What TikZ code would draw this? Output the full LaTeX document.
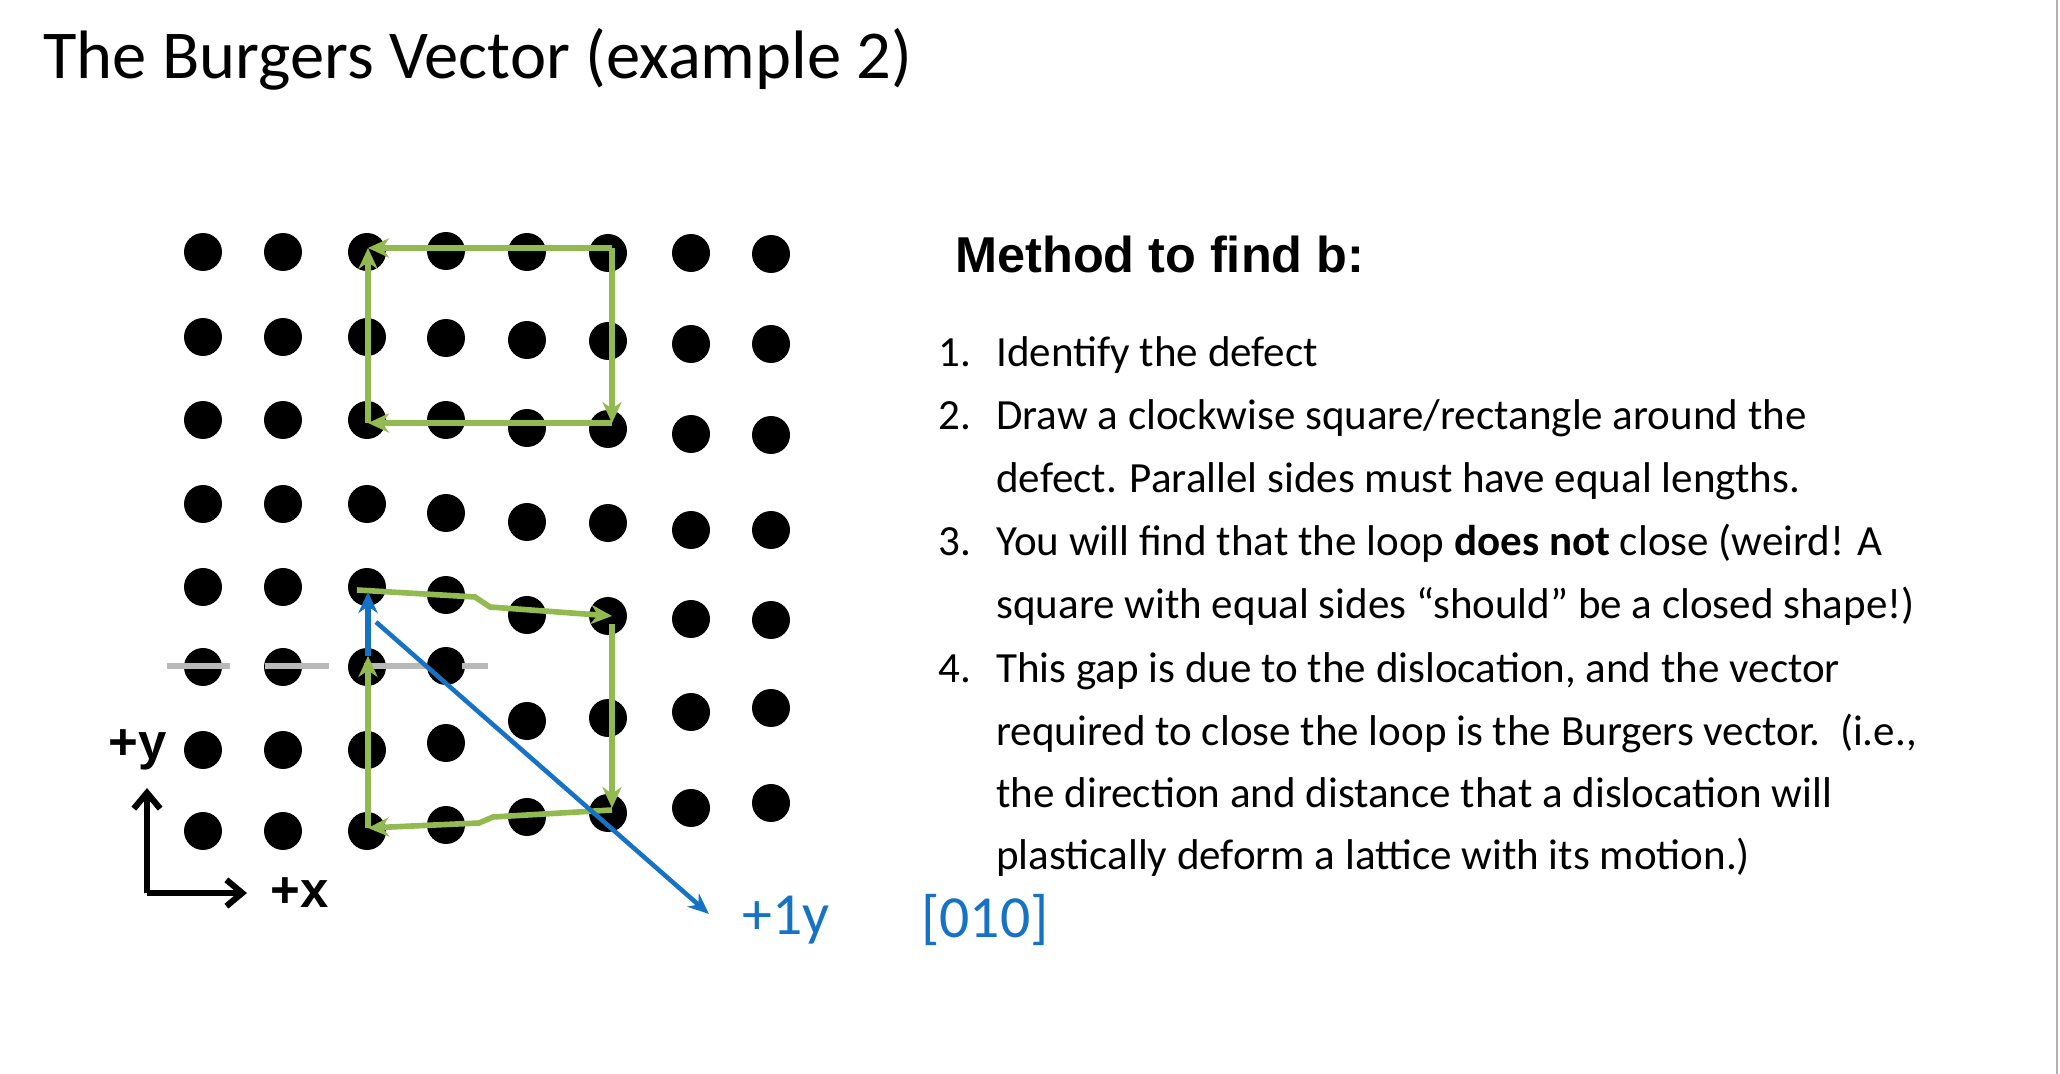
\documentclass[tikz,border=0pt]{standalone}
\usepackage{fontspec}
\setmainfont{Carlito}
\newfontfamily\arialfont{Liberation Sans}
\usetikzlibrary{arrows.meta}
\definecolor{loopgreen}{RGB}{146,186,80}
\definecolor{burgblue}{RGB}{22,114,196}
\tikzset{
  atom/.style={circle,fill=black,inner sep=0pt,minimum size=0.76cm},
  loop/.style={loopgreen,line width=3.2pt,-{Stealth[length=12pt,width=11pt]}},
  bvec/.style={burgblue,line width=3pt,-{Stealth[length=12pt,width=11pt]}},
  item/.style={anchor=base west,inner sep=0pt,font=\fontsize{24.5}{28}\selectfont},
}
\begin{document}
\begin{tikzpicture}[x=0.02cm,y=-0.02cm]
\useasboundingbox (0,0) rectangle (2060,1074);
\draw[gray!60,line width=1pt] (2057,0) -- (2057,1074);
\node[anchor=west,inner sep=0pt,font=\fontsize{39}{46}\selectfont] (title) at (43,59) {The Burgers Vector (example 2)};
% lattice, columns left of the extra half plane
\foreach \x in {203,283,367} {
  \foreach \y in {252,337,420,504,587,667,750,831}
    \node[atom] at (\x,\y) {};
}
\foreach \y in {251,338,420,513,595,666,743,825}
  \node[atom] at (446,\y) {};
% columns right of it
\foreach \y in {252,340,428,522,615,721,817} \node[atom] at (527,\y) {};
\foreach \y in {253,341,429,523,616,718,813} \node[atom] at (608,\y) {};
\foreach \y in {253,344,434,530,619,712,808} \node[atom] at (691,\y) {};
\foreach \y in {254,344,435,530,620,708,803} \node[atom] at (771,\y) {};
% slip plane
\draw[gray!55,line width=3.5pt,dash pattern=on 36pt off 20pt] (167,666) -- (488,666);
% reference loop
\coordinate (tl) at (368,248);
\coordinate (tr) at (612,248);
\coordinate (br) at (612,423);
\coordinate (bl) at (368,423);
\draw[loop] (tr) -- (tl);
\draw[loop] (bl) -- (tl);
\draw[loop] (tr) -- (br);
\draw[loop] (br) -- (bl);
% loop around the dislocation
\coordinate (s) at (357,590);
\coordinate (ur) at (612,616);
\coordinate (lr) at (612,810);
\coordinate (ll) at (368,828);
\coordinate (f) at (368,656);
\coordinate (g) at (368,592);
\draw[loop] (s) -- (475,597) .. controls (482,602) .. (490,607) -- (ur);
\draw[loop] (612,624) -- (612,808);
\draw[loop] (lr) -- (493,817) .. controls (486,820) .. (479,823) -- (ll);
\draw[loop] (ll) -- (f);
\draw[bvec] (f) -- (g);
\coordinate (bs) at (376,622);
\coordinate (be) at (709,914);
\draw[burgblue,line width=2.6pt,-{Stealth[length=12pt,width=10pt]}] (bs) -- (be);
\node[burgblue,font=\fontsize{34}{40}\selectfont] (b1) at (786,920) {+1y};
\node[burgblue,font=\fontsize{34}{40}\selectfont] (b2) at (985,920) {[010]};
% axes
\coordinate (o) at (147,893);
\draw[line width=3.5pt,-{Straight Barb[length=9pt,width=15pt]}] (o) -- (147,788);
\draw[line width=3.5pt,-{Straight Barb[length=9pt,width=15pt]}] (o) -- (247,893);
\node[font=\arialfont\bfseries\fontsize{29}{32}\selectfont] (py) at (138,750) {+y};
\node[font=\arialfont\bfseries\fontsize{29}{32}\selectfont] (px) at (300,893) {+x};
% method
\node[anchor=west,inner sep=0pt,font=\arialfont\bfseries\fontsize{28.7}{32}\selectfont] (meth) at (955,254) {Method to find b:};
\foreach \n/\y/\t in {
  1./367/Identify the defect,
  2./430/{Draw a clockwise square/rectangle around the},
  /493/defect. Parallel sides must have equal lengths.,
  3./556/You will find that the loop \textbf{does not} close (weird! A,
  /619/square with equal sides “should” be a closed shape!),
  4./682/{This gap is due to the dislocation, and the vector},
  /745/{required to close the loop is the Burgers vector.\ \ (i.e.,},
  /807/the direction and distance that a dislocation will,
  /869/plastically deform a lattice with its motion.)} {
  \node[item] at (938,\y) {\n};
  \node[item] at (996,\y) {\t};
}
\end{tikzpicture}
\end{document}
